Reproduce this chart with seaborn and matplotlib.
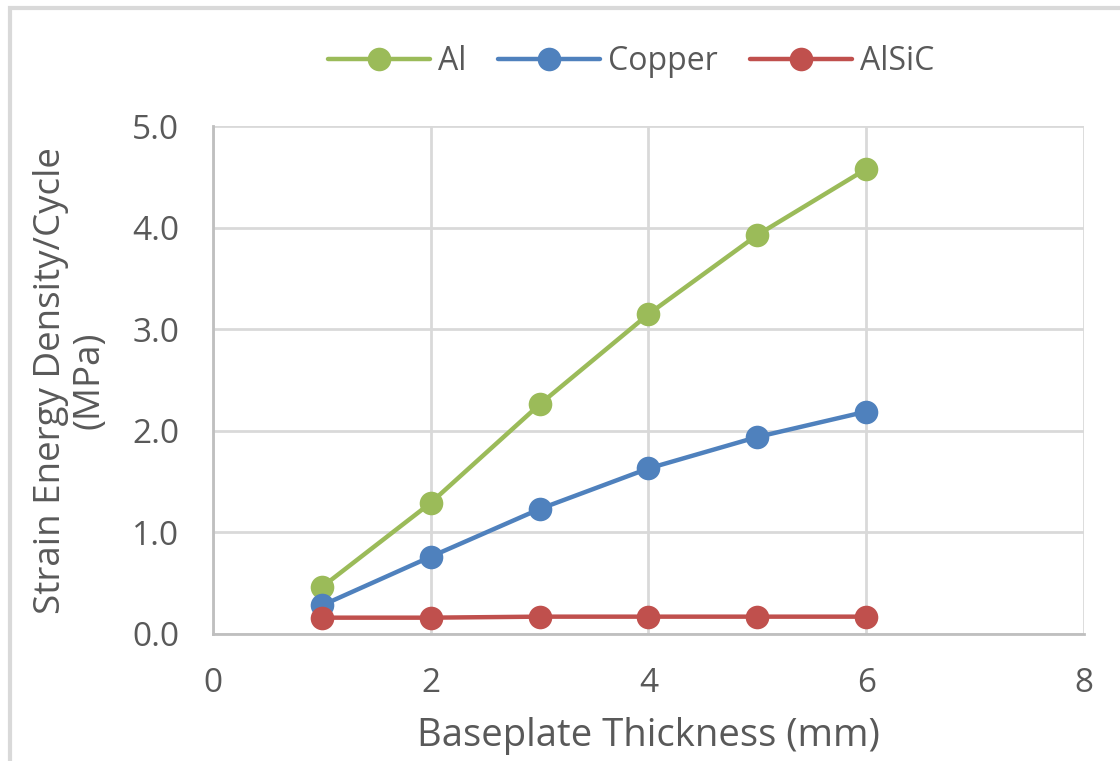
import matplotlib
matplotlib.use("Agg")
import matplotlib.pyplot as plt
import seaborn as sns
import pandas as pd
from matplotlib.patches import Rectangle

thickness = [1, 2, 3, 4, 5, 6]
al = [0.46, 1.29, 2.26, 3.15, 3.93, 4.58]
copper = [0.28, 0.76, 1.23, 1.63, 1.94, 2.19]
alsic = [0.16, 0.16, 0.17, 0.17, 0.17, 0.17]
series_names = ["Al", "Copper", "AlSiC"]
colors = ["#9BBB59", "#4F81BD", "#C0504D"]
x_ticks = [0, 2, 4, 6, 8]
y_ticks = [0.0, 1.0, 2.0, 3.0, 4.0, 5.0]

df = pd.DataFrame({
    "x": thickness * 3,
    "y": al + copper + alsic,
    "series": sum([[n] * len(thickness) for n in series_names], []),
})

sns.set_theme(style="white")
plt.rcParams["font.family"] = ["Open Sans", "DejaVu Sans"]
txt = "#595959"
grid = "#d9d9d9"

fig = plt.figure(figsize=(11.2, 7.61), dpi=100)
ax = fig.add_axes([0.190, 0.167, 0.778, 0.667])

sns.lineplot(data=df, x="x", y="y", hue="series", hue_order=series_names,
             palette=colors, marker="o", markersize=17, linewidth=3.2,
             markeredgewidth=0, ax=ax, legend=True)

ax.set_xlim(0, 8)
ax.set_ylim(0, 5)
ax.set_xticks(x_ticks)
ax.set_yticks(y_ticks)
ax.set_yticklabels([f"{v:.1f}" for v in y_ticks])
ax.grid(True, color=grid, linewidth=2)
ax.set_axisbelow(True)
for s in ["top", "right"]:
    ax.spines[s].set_visible(False)
for s in ["left", "bottom"]:
    ax.spines[s].set_color("#bfbfbf")
    ax.spines[s].set_linewidth(2)
ax.tick_params(axis="both", colors=txt, labelsize=24, length=0)
ax.tick_params(axis="x", pad=24)
ax.tick_params(axis="y", pad=24)
ax.set_xlabel("Baseplate Thickness (mm)", fontsize=27.5, color=txt, labelpad=12)
ax.set_ylabel("Strain Energy Density/Cycle\n(MPa)", fontsize=26.5, color=txt,
              labelpad=18, linespacing=1.1)

handles, labels = ax.get_legend_handles_labels()
leg = ax.legend(handles, labels, loc="center", bbox_to_anchor=(0.48, 1.128),
                ncol=3, frameon=False, fontsize=23, handlelength=3.2,
                columnspacing=1.0, handletextpad=0.25)
for t in leg.get_texts():
    t.set_color(txt)

fig.patches.append(Rectangle((0.009, -0.01), 1.0, 1.0, transform=fig.transFigure,
                             fill=False, edgecolor="#d9d9d9", linewidth=3))

fig.savefig("out.png", dpi=100)
